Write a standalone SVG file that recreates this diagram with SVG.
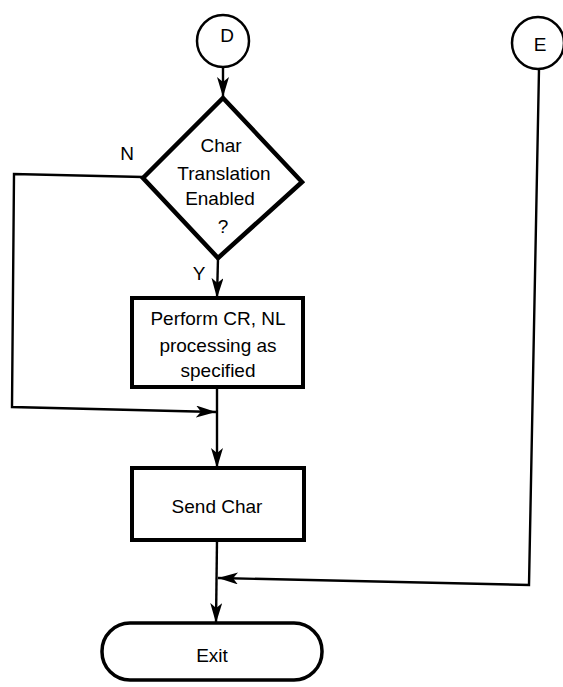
<svg xmlns="http://www.w3.org/2000/svg" width="563" height="687" viewBox="0 0 563 687">
<defs>
<style>
text{font-family:"Liberation Sans",Arial,Helvetica,sans-serif;font-size:19px;fill:#000;text-anchor:middle}
.conn{fill:none;stroke:#000;stroke-width:2.4}
.circ{fill:#fff;stroke:#000;stroke-width:2.5}
.box{fill:#fff;stroke:#000;stroke-width:4}
.dia{fill:#fff;stroke:#000;stroke-width:4.5;stroke-linejoin:miter}
.term{fill:#fff;stroke:#000;stroke-width:3.5}
</style>
<marker id="arr" markerWidth="20" markerHeight="12" refX="20" refY="6" orient="auto" markerUnits="userSpaceOnUse">
<path d="M0,0 L20,6 L0,12 L5,6 Z" fill="#000"/>
</marker>
</defs>
<g id="connectors">
<path class="conn" d="M223,67 L223,97" marker-end="url(#arr)"/>
<path class="conn" d="M218,258 L217,298" marker-end="url(#arr)"/>
<path class="conn" d="M143,177 L14,174 L12,407 L216,412" marker-end="url(#arr)"/>
<path class="conn" d="M217,387 L217,468" marker-end="url(#arr)"/>
<path class="conn" d="M217,540 L216,623" marker-end="url(#arr)"/>
<path class="conn" d="M539,69 L529,585 L218,578" marker-end="url(#arr)"/>
</g>
<g id="nodeD">
<circle class="circ" cx="223" cy="41" r="26"/>
<text x="227" y="42">D</text>
</g>
<g id="nodeE">
<circle class="circ" cx="538" cy="43" r="26"/>
<text x="540" y="51">E</text>
</g>
<g id="decision">
<polygon class="dia" points="223,98 302,182 218,258 143,178"/>
<text x="221" y="152">Char</text>
<text x="224" y="180">Translation</text>
<text x="220" y="205">Enabled</text>
<text x="223" y="233">?</text>
<text x="127" y="160">N</text>
<text x="199" y="280">Y</text>
</g>
<g id="perform">
<rect class="box" x="132" y="298" width="171" height="89"/>
<text x="218" y="325">Perform CR, NL</text>
<text x="218" y="352">processing as</text>
<text x="218" y="377">specified</text>
</g>
<g id="send">
<rect class="box" x="132" y="468" width="172" height="72"/>
<text x="217" y="513">Send Char</text>
</g>
<g id="exit">
<rect class="term" x="102" y="623" width="220" height="57" rx="28" ry="28"/>
<text x="212" y="662">Exit</text>
</g>
</svg>
